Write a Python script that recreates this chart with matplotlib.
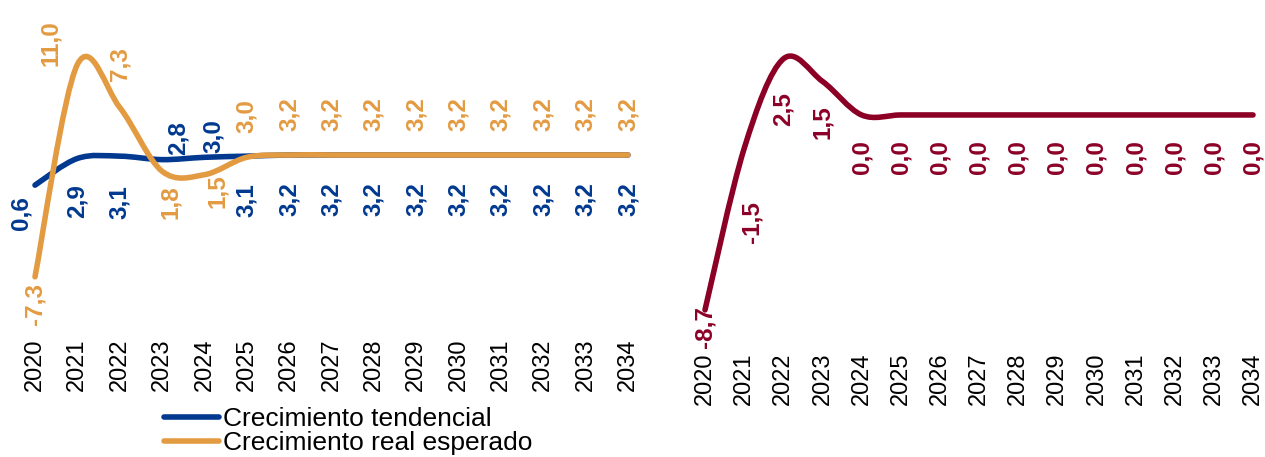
import matplotlib.pyplot as plt
from matplotlib.path import Path
from matplotlib.patches import PathPatch
from matplotlib.lines import Line2D

plt.rcParams['font.family'] = ['Liberation Sans', 'DejaVu Sans']

years = list(range(2020, 2035))
tendencial = [0.6, 2.9, 3.1, 2.8, 3.0, 3.1, 3.2, 3.2, 3.2, 3.2, 3.2, 3.2, 3.2, 3.2, 3.2]
real_esperado = [-7.3, 11.0, 7.3, 1.8, 1.5, 3.0, 3.2, 3.2, 3.2, 3.2, 3.2, 3.2, 3.2, 3.2, 3.2]
brecha = [-8.7, -1.5, 2.5, 1.5, 0.0, 0.0, 0.0, 0.0, 0.0, 0.0, 0.0, 0.0, 0.0, 0.0, 0.0]

BLUE = "#00398F"
ORANGE = "#E39B42"
RED = "#8C0026"

# label offsets in pixels (dx, dy) relative to each point
off_tend = [(-14, -28), (0, -43), (0, -46), (16, 22), (9, 21)] + [(0, -44)] * 10
off_real = [(0, -27), (-27, 21), (0, 43), (8, -31), (13, -16)] + [(0, 41)] * 10
off_brecha = [(0, -17), (8, -73), (0, -50), (0, -41)] + [(0, -42)] * 11


def smooth_path(x, y):
    # bezier segments like Excel's smoothed line
    n = len(x)
    verts = [(x[0], y[0])]
    codes = [Path.MOVETO]
    for i in range(n - 1):
        i0 = max(i - 1, 0)
        i3 = min(i + 2, n - 1)
        c1 = (x[i] + (x[i + 1] - x[i0]) / 6, y[i] + (y[i + 1] - y[i0]) / 6)
        c2 = (x[i + 1] - (x[i3] - x[i]) / 6, y[i + 1] - (y[i3] - y[i]) / 6)
        verts += [c1, c2, (x[i + 1], y[i + 1])]
        codes += [Path.CURVE4] * 3
    return Path(verts, codes)


def draw_series(ax, vals, color, offsets):
    patch = PathPatch(smooth_path(years, vals), fill=False, edgecolor=color,
                      lw=4, capstyle="round", joinstyle="round", clip_on=False)
    ax.add_patch(patch)
    for yr, v, (dx, dy) in zip(years, vals, offsets):
        ax.annotate(f"{v:.1f}".replace(".", ","), (yr, v), xytext=(dx, dy),
                    textcoords="offset pixels", rotation=90, ha="center", va="center",
                    color=color, fontsize=17.5, fontweight="bold", annotation_clip=False)


def style_axis(ax):
    for s in ax.spines.values():
        s.set_visible(False)
    ax.set_yticks([])
    ax.set_xticks(years)
    ax.set_xticklabels([str(y) for y in years], rotation=90, fontsize=17)
    ax.tick_params(axis="x", length=0, pad=3)
    ax.set_xlim(2020, 2034)


W, H = 1265, 457
fig = plt.figure(figsize=(12.65, 4.57), dpi=100)

ax1 = fig.add_axes([35 / W, 1 - 334 / H, 593 / W, 334 / H])
ax1.set_ylim(-12.23, 16.56)
style_axis(ax1)
draw_series(ax1, tendencial, BLUE, off_tend)
draw_series(ax1, real_esperado, ORANGE, off_real)

ax2 = fig.add_axes([705 / W, 1 - 348 / H, 548 / W, 348 / H])
ax2.set_ylim(-10.4, 5.13)
style_axis(ax2)
draw_series(ax2, brecha, RED, off_brecha)

handles = [Line2D([], [], color=BLUE, lw=4, solid_capstyle="round"),
           Line2D([], [], color=ORANGE, lw=4, solid_capstyle="round")]
fig.legend(handles, ["Crecimiento tendencial", "Crecimiento real esperado"],
           loc="upper left", bbox_to_anchor=(164 / W, 1 - 407 / H), frameon=False,
           fontsize=19, handlelength=2.1, handletextpad=0.12, labelspacing=0,
           borderpad=0, borderaxespad=0)

fig.savefig("out.png", dpi=100)
